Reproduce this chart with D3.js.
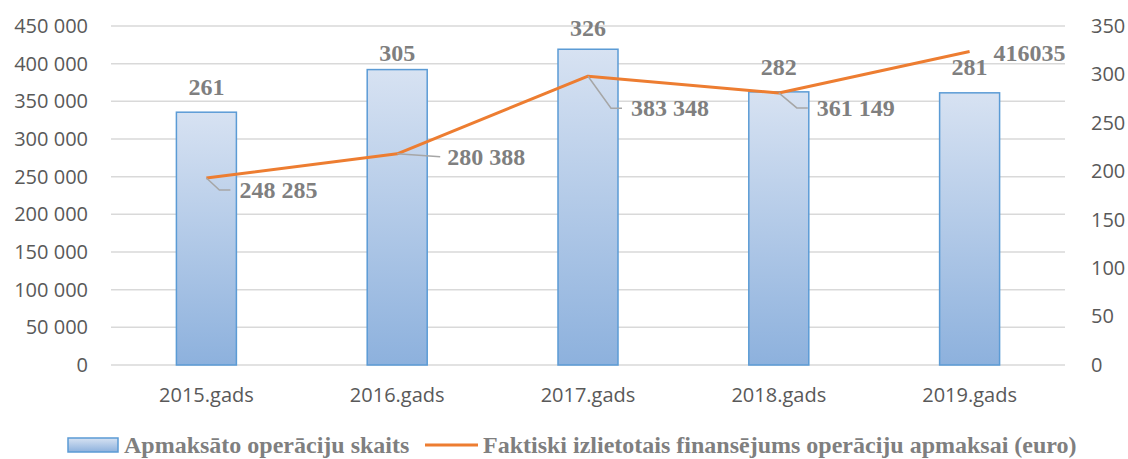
<!DOCTYPE html>
<html>
<head>
<meta charset="utf-8">
<script src="https://cdn.jsdelivr.net/npm/d3@7"></script>
<style>
  body { margin: 0; background: #fff; }
  .tick text { font-family: "Open Sans", sans-serif; }
</style>
</head>
<body>
<div id="chart"></div>
<script>
// data
var years = ["2015.gads", "2016.gads", "2017.gads", "2018.gads", "2019.gads"];
var operations = [261, 305, 326, 282, 281];
var funding = [248285, 280388, 383348, 361149, 416035];
var fundingLabels = ["248 285", "280 388", "383 348", "361 149", "416035"];
var leftTicks = [0, 50000, 100000, 150000, 200000, 250000, 300000, 350000, 400000, 450000];
var rightTicks = [0, 50, 100, 150, 200, 250, 300, 350];
var barName = "Apmaksāto operāciju skaits";
var lineName = "Faktiski izlietotais finansējums operāciju apmaksai (euro)";

// label placement (manual, like in the source chart)
var labelShift = [[33, 12], [50, 3], [43, 32], [38, 15], [24, 1]];
var barLabelLift = [17, 8.5, 13, 17, 18];

var width = 1128, height = 459;
var margin = { left: 111, right: 63, top: 26, bottom: 94 };
var serif = "'Liberation Serif', 'Times New Roman', serif";

var svg = d3.select("#chart").append("svg")
  .attr("width", width)
  .attr("height", height);

var defs = svg.append("defs");
var grad = defs.append("linearGradient")
  .attr("id", "barGrad")
  .attr("x1", 0).attr("y1", 0).attr("x2", 0).attr("y2", 1);
grad.append("stop").attr("offset", "0%").attr("stop-color", "#d7e2f2");
grad.append("stop").attr("offset", "100%").attr("stop-color", "#8db1dd");

var x = d3.scaleBand()
  .domain(years)
  .range([margin.left, width - margin.right]);

var yLeft = d3.scaleLinear()
  .domain([0, 450000])
  .range([height - margin.bottom, margin.top]);

var yRight = d3.scaleLinear()
  .domain([0, 350])
  .range([height - margin.bottom, margin.top]);

var fmt = function (v) {
  return d3.format(",")(v).replace(/,/g, " ");
};

// gridlines
svg.append("g")
  .selectAll("line")
  .data(leftTicks)
  .enter()
  .append("line")
  .attr("x1", margin.left)
  .attr("x2", width - margin.right)
  .attr("y1", function (d) { return yLeft(d); })
  .attr("y2", function (d) { return yLeft(d); })
  .attr("stroke", "#d9d9d9")
  .attr("stroke-width", 1.5);

// left axis
var gl = svg.append("g")
  .attr("transform", "translate(" + (margin.left - 23) + ",0)")
  .call(d3.axisLeft(yLeft).tickValues(leftTicks).tickFormat(fmt).tickSize(0).tickPadding(0));
gl.select(".domain").remove();
gl.selectAll("text")
  .attr("font-size", 20)
  .attr("fill", "#595959");

// right axis
var gr = svg.append("g")
  .attr("transform", "translate(" + (width - margin.right + 26) + ",0)")
  .call(d3.axisRight(yRight).tickValues(rightTicks).tickSize(0).tickPadding(0));
gr.select(".domain").remove();
gr.selectAll("text")
  .attr("font-size", 20)
  .attr("fill", "#595959");

// x axis
var gx = svg.append("g")
  .attr("transform", "translate(0," + (height - margin.bottom + 23) + ")")
  .call(d3.axisBottom(x).tickSize(0).tickPadding(0));
gx.select(".domain").remove();
gx.selectAll("text")
  .attr("font-size", 20)
  .attr("dy", "0.71em")
  .attr("fill", "#595959");

// bars
var barW = 60;
svg.append("g")
  .selectAll("rect")
  .data(operations)
  .enter()
  .append("rect")
  .attr("x", function (d, i) { return x(years[i]) + x.bandwidth() / 2 - barW / 2; })
  .attr("y", function (d) { return yRight(d); })
  .attr("width", barW)
  .attr("height", function (d) { return yRight(0) - yRight(d); })
  .attr("fill", "url(#barGrad)")
  .attr("stroke", "#5b9bd5")
  .attr("stroke-width", 1.5);

// bar labels
svg.append("g")
  .selectAll("text")
  .data(operations)
  .enter()
  .append("text")
  .attr("x", function (d, i) { return x(years[i]) + x.bandwidth() / 2; })
  .attr("y", function (d, i) { return yRight(d) - barLabelLift[i]; })
  .attr("text-anchor", "middle")
  .style("font-family", serif)
  .style("font-weight", "bold")
  .style("font-size", "24px")
  .attr("fill", "#7f7f7f")
  .text(function (d) { return d; });

// line
var px = function (i) { return x(years[i]) + x.bandwidth() / 2; };
var line = d3.line()
  .x(function (d, i) { return px(i); })
  .y(function (d) { return yLeft(d); });

svg.append("path")
  .datum(funding)
  .attr("d", line)
  .attr("fill", "none")
  .attr("stroke", "#ed7d31")
  .attr("stroke-width", 3)
  .attr("stroke-linejoin", "round");

// line labels with leader lines
funding.forEach(function (v, i) {
  var x0 = px(i), y0 = yLeft(v);
  var lx = x0 + labelShift[i][0];
  var ly = y0 + labelShift[i][1];
  if (labelShift[i][1] > 5) {
    svg.append("polyline")
      .attr("points", [[x0, y0], [lx - 20, ly], [lx - 9, ly]].join(" "))
      .attr("fill", "none")
      .attr("stroke", "#a6a6a6")
      .attr("stroke-width", 1.5);
  } else if (labelShift[i][0] > 30) {
    svg.append("line")
      .attr("x1", x0).attr("y1", y0)
      .attr("x2", lx - 7).attr("y2", ly)
      .attr("stroke", "#a6a6a6")
      .attr("stroke-width", 1.5);
  }
  svg.append("text")
    .attr("x", lx)
    .attr("y", ly)
    .attr("dy", "0.33em")
    .style("font-family", serif)
    .style("font-weight", "bold")
    .style("font-size", "24px")
    .attr("fill", "#7f7f7f")
    .text(fundingLabels[i]);
});

// legend
var legend = svg.append("g");
legend.append("rect")
  .attr("x", 68).attr("y", 438)
  .attr("width", 50).attr("height", 14)
  .attr("fill", "url(#barGrad)")
  .attr("stroke", "#5b9bd5")
  .attr("stroke-width", 1.5);
legend.append("text")
  .attr("x", 124).attr("y", 453)
  .style("font-family", serif)
  .style("font-weight", "bold")
  .style("font-size", "24px")
  .attr("fill", "#7f7f7f")
  .text(barName);
legend.append("line")
  .attr("x1", 425).attr("x2", 478)
  .attr("y1", 445).attr("y2", 445)
  .attr("stroke", "#ed7d31")
  .attr("stroke-width", 3);
legend.append("text")
  .attr("x", 483).attr("y", 453)
  .style("font-family", serif)
  .style("font-weight", "bold")
  .style("font-size", "24px")
  .attr("fill", "#7f7f7f")
  .text(lineName);
</script>
</body>
</html>
